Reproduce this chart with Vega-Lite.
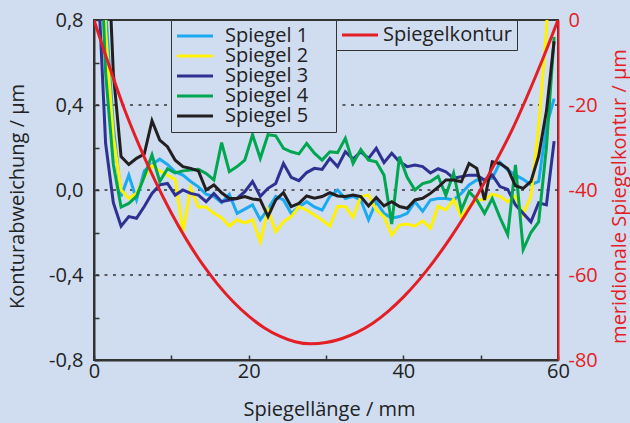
{
  "$schema": "https://vega.github.io/schema/vega-lite/v6.json",
  "width": 464,
  "height": 340,
  "autosize": {"type": "none"},
  "padding": {"left": 94, "top": 20, "right": 72, "bottom": 63},
  "background": "#d0ddf0",
  "config": {
    "font": "Open Sans",
    "view": {"stroke": "#333333", "strokeWidth": 2},
    "locale": {"number": {"decimal": ",", "thousands": ".", "grouping": [3], "currency": ["", " €"], "minus": "-"}},
    "axis": {
      "labelFont": "Open Sans", "labelFontSize": 20, "labelColor": "#222222",
      "titleFont": "Open Sans", "titleFontSize": 20, "titleFontWeight": "normal", "titleColor": "#222222",
      "domainColor": "#333333", "domainWidth": 2, "tickColor": "#333333", "tickWidth": 1.5,
      "grid": false, "labelFlush": false, "labelOverlap": false
    },
    "axisRight": {"labelColor": "#e31e24", "titleColor": "#e31e24", "domainColor": "#e31e24", "ticks": false}
  },
  "datasets": {
    "grid": [{"v": 0.4}, {"v": 0}, {"v": -0.4}],
    "mirrors": [
      {"x": 0.5, "Spiegel 1": 2.0, "Spiegel 2": 1.6, "Spiegel 3": 1.0, "Spiegel 4": 1.5, "Spiegel 5": 3.0},
      {"x": 1.5, "Spiegel 1": 0.85, "Spiegel 2": 0.75, "Spiegel 3": 0.22, "Spiegel 4": 0.55, "Spiegel 5": 1.4},
      {"x": 2.5, "Spiegel 1": 0.3, "Spiegel 2": 0.25, "Spiegel 3": -0.06, "Spiegel 4": 0.12, "Spiegel 5": 0.55},
      {"x": 3.5, "Spiegel 1": -0.03, "Spiegel 2": 0.0, "Spiegel 3": -0.17, "Spiegel 4": -0.08, "Spiegel 5": 0.157},
      {"x": 4.5, "Spiegel 1": 0.07, "Spiegel 2": -0.04, "Spiegel 3": -0.125, "Spiegel 4": -0.063, "Spiegel 5": 0.12},
      {"x": 5.5, "Spiegel 1": -0.045, "Spiegel 2": -0.015, "Spiegel 3": -0.133, "Spiegel 4": -0.03, "Spiegel 5": 0.149},
      {"x": 6.5, "Spiegel 1": 0.09, "Spiegel 2": 0.06, "Spiegel 3": -0.078, "Spiegel 4": 0.063, "Spiegel 5": 0.169},
      {"x": 7.5, "Spiegel 1": 0.12, "Spiegel 2": 0.115, "Spiegel 3": -0.016, "Spiegel 4": 0.165, "Spiegel 5": 0.326},
      {"x": 8.5, "Spiegel 1": 0.145, "Spiegel 2": 0.09, "Spiegel 3": 0.024, "Spiegel 4": 0.04, "Spiegel 5": 0.235},
      {"x": 9.5, "Spiegel 1": 0.12, "Spiegel 2": 0.07, "Spiegel 3": 0.031, "Spiegel 4": 0.1, "Spiegel 5": 0.204},
      {"x": 10.5, "Spiegel 1": 0.085, "Spiegel 2": 0.05, "Spiegel 3": -0.024, "Spiegel 4": 0.08, "Spiegel 5": 0.14},
      {"x": 11.5, "Spiegel 1": 0.07, "Spiegel 2": -0.196, "Spiegel 3": 0.0, "Spiegel 4": 0.09, "Spiegel 5": 0.11},
      {"x": 12.5, "Spiegel 1": 0.04, "Spiegel 2": 0.01, "Spiegel 3": -0.016, "Spiegel 4": 0.094, "Spiegel 5": 0.102},
      {"x": 13.5, "Spiegel 1": 0.015, "Spiegel 2": -0.08, "Spiegel 3": -0.024, "Spiegel 4": 0.097, "Spiegel 5": 0.09},
      {"x": 14.5, "Spiegel 1": -0.02, "Spiegel 2": -0.08, "Spiegel 3": -0.055, "Spiegel 4": 0.078, "Spiegel 5": 0.0},
      {"x": 15.5, "Spiegel 1": -0.03, "Spiegel 2": -0.11, "Spiegel 3": -0.016, "Spiegel 4": 0.047, "Spiegel 5": 0.024},
      {"x": 16.5, "Spiegel 1": -0.06, "Spiegel 2": -0.13, "Spiegel 3": -0.055, "Spiegel 4": 0.223, "Spiegel 5": -0.013},
      {"x": 17.5, "Spiegel 1": -0.02, "Spiegel 2": -0.17, "Spiegel 3": -0.047, "Spiegel 4": 0.086, "Spiegel 5": -0.04},
      {"x": 18.5, "Spiegel 1": -0.11, "Spiegel 2": -0.14, "Spiegel 3": -0.04, "Spiegel 4": 0.11, "Spiegel 5": -0.04},
      {"x": 19.5, "Spiegel 1": -0.09, "Spiegel 2": -0.155, "Spiegel 3": -0.008, "Spiegel 4": 0.14, "Spiegel 5": -0.031},
      {"x": 20.5, "Spiegel 1": -0.07, "Spiegel 2": -0.14, "Spiegel 3": 0.04, "Spiegel 4": 0.26, "Spiegel 5": -0.042},
      {"x": 21.5, "Spiegel 1": -0.14, "Spiegel 2": -0.243, "Spiegel 3": -0.03, "Spiegel 4": 0.149, "Spiegel 5": -0.047},
      {"x": 22.5, "Spiegel 1": -0.09, "Spiegel 2": -0.094, "Spiegel 3": 0.008, "Spiegel 4": 0.26, "Spiegel 5": -0.125},
      {"x": 23.5, "Spiegel 1": -0.03, "Spiegel 2": -0.196, "Spiegel 3": 0.031, "Spiegel 4": 0.255, "Spiegel 5": -0.047},
      {"x": 24.5, "Spiegel 1": -0.047, "Spiegel 2": -0.15, "Spiegel 3": 0.125, "Spiegel 4": 0.196, "Spiegel 5": -0.013},
      {"x": 25.5, "Spiegel 1": -0.11, "Spiegel 2": -0.125, "Spiegel 3": 0.06, "Spiegel 4": 0.18, "Spiegel 5": -0.078},
      {"x": 26.5, "Spiegel 1": -0.08, "Spiegel 2": -0.078, "Spiegel 3": 0.044, "Spiegel 4": 0.17, "Spiegel 5": -0.063},
      {"x": 27.5, "Spiegel 1": -0.055, "Spiegel 2": -0.094, "Spiegel 3": 0.082, "Spiegel 4": 0.219, "Spiegel 5": -0.028},
      {"x": 28.5, "Spiegel 1": -0.08, "Spiegel 2": -0.118, "Spiegel 3": 0.102, "Spiegel 4": 0.173, "Spiegel 5": -0.039},
      {"x": 29.5, "Spiegel 1": -0.095, "Spiegel 2": -0.141, "Spiegel 3": 0.097, "Spiegel 4": 0.141, "Spiegel 5": -0.031},
      {"x": 30.5, "Spiegel 1": -0.03, "Spiegel 2": -0.17, "Spiegel 3": 0.149, "Spiegel 4": 0.18, "Spiegel 5": -0.013},
      {"x": 31.5, "Spiegel 1": 0.0, "Spiegel 2": -0.078, "Spiegel 3": 0.11, "Spiegel 4": 0.176, "Spiegel 5": -0.028},
      {"x": 32.5, "Spiegel 1": -0.04, "Spiegel 2": -0.078, "Spiegel 3": 0.18, "Spiegel 4": 0.243, "Spiegel 5": -0.031},
      {"x": 33.5, "Spiegel 1": -0.03, "Spiegel 2": -0.129, "Spiegel 3": 0.145, "Spiegel 4": 0.125, "Spiegel 5": -0.024},
      {"x": 34.5, "Spiegel 1": -0.047, "Spiegel 2": -0.031, "Spiegel 3": 0.18, "Spiegel 4": 0.19, "Spiegel 5": -0.031},
      {"x": 35.5, "Spiegel 1": -0.14, "Spiegel 2": -0.024, "Spiegel 3": 0.149, "Spiegel 4": 0.141, "Spiegel 5": -0.075},
      {"x": 36.5, "Spiegel 1": -0.055, "Spiegel 2": -0.094, "Spiegel 3": 0.196, "Spiegel 4": 0.133, "Spiegel 5": -0.035},
      {"x": 37.5, "Spiegel 1": -0.11, "Spiegel 2": -0.125, "Spiegel 3": 0.129, "Spiegel 4": 0.07, "Spiegel 5": -0.075},
      {"x": 38.5, "Spiegel 1": -0.133, "Spiegel 2": -0.212, "Spiegel 3": 0.173, "Spiegel 4": -0.16, "Spiegel 5": -0.055},
      {"x": 39.5, "Spiegel 1": -0.125, "Spiegel 2": -0.165, "Spiegel 3": 0.133, "Spiegel 4": 0.157, "Spiegel 5": -0.078},
      {"x": 40.5, "Spiegel 1": -0.11, "Spiegel 2": -0.16, "Spiegel 3": 0.11, "Spiegel 4": 0.06, "Spiegel 5": -0.086},
      {"x": 41.5, "Spiegel 1": -0.055, "Spiegel 2": -0.17, "Spiegel 3": 0.118, "Spiegel 4": 0.0, "Spiegel 5": -0.047},
      {"x": 42.5, "Spiegel 1": -0.1, "Spiegel 2": -0.145, "Spiegel 3": 0.11, "Spiegel 4": 0.03, "Spiegel 5": -0.039},
      {"x": 43.5, "Spiegel 1": -0.047, "Spiegel 2": -0.18, "Spiegel 3": 0.08, "Spiegel 4": 0.04, "Spiegel 5": -0.016},
      {"x": 44.5, "Spiegel 1": -0.04, "Spiegel 2": -0.076, "Spiegel 3": 0.1, "Spiegel 4": 0.065, "Spiegel 5": 0.013},
      {"x": 45.5, "Spiegel 1": -0.04, "Spiegel 2": -0.094, "Spiegel 3": 0.086, "Spiegel 4": -0.025, "Spiegel 5": 0.047},
      {"x": 46.5, "Spiegel 1": -0.047, "Spiegel 2": -0.045, "Spiegel 3": 0.055, "Spiegel 4": 0.08, "Spiegel 5": 0.047},
      {"x": 47.5, "Spiegel 1": -0.016, "Spiegel 2": -0.126, "Spiegel 3": 0.063, "Spiegel 4": -0.094, "Spiegel 5": 0.039},
      {"x": 48.5, "Spiegel 1": 0.024, "Spiegel 2": -0.078, "Spiegel 3": 0.07, "Spiegel 4": -0.008, "Spiegel 5": 0.125},
      {"x": 49.5, "Spiegel 1": 0.047, "Spiegel 2": -0.047, "Spiegel 3": 0.07, "Spiegel 4": -0.047, "Spiegel 5": 0.102},
      {"x": 50.5, "Spiegel 1": 0.047, "Spiegel 2": -0.045, "Spiegel 3": 0.047, "Spiegel 4": -0.11, "Spiegel 5": -0.047},
      {"x": 51.5, "Spiegel 1": 0.055, "Spiegel 2": -0.02, "Spiegel 3": 0.07, "Spiegel 4": -0.04, "Spiegel 5": 0.133},
      {"x": 52.5, "Spiegel 1": 0.13, "Spiegel 2": -0.03, "Spiegel 3": 0.016, "Spiegel 4": -0.13, "Spiegel 5": 0.125},
      {"x": 53.5, "Spiegel 1": 0.094, "Spiegel 2": -0.055, "Spiegel 3": 0.003, "Spiegel 4": -0.21, "Spiegel 5": 0.1},
      {"x": 54.5, "Spiegel 1": 0.07, "Spiegel 2": -0.03, "Spiegel 3": -0.07, "Spiegel 4": 0.118, "Spiegel 5": 0.02},
      {"x": 55.5, "Spiegel 1": 0.05, "Spiegel 2": -0.115, "Spiegel 3": -0.11, "Spiegel 4": -0.28, "Spiegel 5": 0.008},
      {"x": 56.5, "Spiegel 1": 0.025, "Spiegel 2": -0.03, "Spiegel 3": -0.15, "Spiegel 4": -0.2, "Spiegel 5": 0.04},
      {"x": 57.5, "Spiegel 1": 0.04, "Spiegel 2": 0.3, "Spiegel 3": -0.06, "Spiegel 4": -0.15, "Spiegel 5": 0.16},
      {"x": 58.5, "Spiegel 1": 0.3, "Spiegel 2": 0.75, "Spiegel 3": -0.07, "Spiegel 4": 0.2, "Spiegel 5": 0.37},
      {"x": 59.5, "Spiegel 1": 0.43, "Spiegel 2": 1.5, "Spiegel 3": 0.23, "Spiegel 4": 0.72, "Spiegel 5": 0.7}
    ],
    "contour": [
      {"x": 0, "k": 0}, {"x": 2, "k": -11}, {"x": 4, "k": -21.3}, {"x": 6, "k": -30.2}, {"x": 8, "k": -38.2},
      {"x": 10, "k": -45.4}, {"x": 12, "k": -51.8}, {"x": 14, "k": -57.4}, {"x": 16, "k": -62.2}, {"x": 18, "k": -66.3},
      {"x": 20, "k": -69.7}, {"x": 22, "k": -72.4}, {"x": 24, "k": -74.4}, {"x": 26, "k": -75.7}, {"x": 28, "k": -76.2},
      {"x": 30, "k": -75.9}, {"x": 32, "k": -75.0}, {"x": 34, "k": -73.5}, {"x": 36, "k": -71.4}, {"x": 38, "k": -68.6},
      {"x": 40, "k": -65.2}, {"x": 42, "k": -61.2}, {"x": 44, "k": -56.6}, {"x": 46, "k": -51.5}, {"x": 48, "k": -45.9},
      {"x": 50, "k": -39.8}, {"x": 52, "k": -33.2}, {"x": 54, "k": -26.1}, {"x": 56, "k": -18.0}, {"x": 58, "k": -9.3}, {"x": 60, "k": 0}
    ]
  },
  "layer": [
    {
      "layer": [
        {
          "data": {"name": "grid"},
          "mark": {"type": "rule", "color": "#333333", "strokeWidth": 1.3, "strokeDash": [3, 5.5]},
          "encoding": {
            "y": {
              "field": "v", "type": "quantitative",
              "scale": {"domain": [-0.8, 0.8], "nice": false, "zero": false},
              "axis": {
                "orient": "left", "title": "Konturabweichung / µm",
                "values": [-0.8, -0.6, -0.4, -0.2, 0, 0.2, 0.4, 0.6, 0.8],
                "format": ".1f",
                "labelExpr": "round(datum.value * 10) % 4 == 0 ? datum.label : ''",
                "tickSize": -5, "labelPadding": 16,
                "titleAngle": -90, "titleAlign": "center", "titleBaseline": "middle",
                "titleX": -77, "titleY": 176
              }
            }
          }
        },
        {
          "data": {"name": "mirrors"},
          "transform": [{"fold": ["Spiegel 1", "Spiegel 2", "Spiegel 3", "Spiegel 4", "Spiegel 5"], "as": ["s", "v"]}],
          "mark": {"type": "line", "clip": true, "strokeWidth": 3},
          "encoding": {
            "x": {
              "field": "x", "type": "quantitative",
              "scale": {"domain": [0, 60], "nice": false, "zero": false},
              "axis": {
                "title": "Spiegellänge / mm",
                "values": [0, 10, 20, 30, 40, 50, 60],
                "labelExpr": "datum.value % 20 == 0 ? datum.label : ''",
                "tickSize": -5, "labelPadding": 6,
                "titleX": 235, "titleY": 49, "titleBaseline": "middle"
              }
            },
            "y": {
              "field": "v", "type": "quantitative",
              "scale": {"domain": [-0.8, 0.8], "nice": false, "zero": false},
              "axis": {
                "orient": "left", "title": "Konturabweichung / µm",
                "values": [-0.8, -0.6, -0.4, -0.2, 0, 0.2, 0.4, 0.6, 0.8],
                "format": ".1f",
                "labelExpr": "round(datum.value * 10) % 4 == 0 ? datum.label : ''",
                "tickSize": -5, "labelPadding": 16,
                "titleAngle": -90, "titleAlign": "center", "titleBaseline": "middle",
                "titleX": -77, "titleY": 176
              }
            },
            "color": {
              "field": "s", "type": "nominal",
              "scale": {
                "domain": ["Spiegel 1", "Spiegel 2", "Spiegel 3", "Spiegel 4", "Spiegel 5"],
                "range": ["#1ba9f0", "#fff100", "#2e3191", "#00a650", "#231f20"]
              },
              "legend": {
                "orient": "none", "legendX": 77, "legendY": 0, "title": null,
                "symbolType": "M-3,0L3,0", "symbolSize": 144, "symbolStrokeWidth": 3,
                "symbolOffset": 8, "labelOffset": 20, "rowPadding": 0, "padding": 6,
                "labelFont": "Open Sans", "labelFontSize": 20, "labelColor": "#222222",
                "strokeColor": "#333333", "fillColor": "#d0ddf0",
                "labelExpr": "datum.label + '\u00a0\u00a0\u00a0\u00a0\u200b'"
              }
            }
          }
        }
      ]
    },
    {
      "data": {"name": "contour"},
      "mark": {"type": "line", "clip": true, "strokeWidth": 3, "interpolate": "monotone"},
      "encoding": {
        "x": {"field": "x", "type": "quantitative", "scale": {"domain": [0, 60], "nice": false, "zero": false}},
        "y": {
          "field": "k", "type": "quantitative",
          "scale": {"domain": [-80, 0], "nice": false, "zero": false},
          "axis": {
            "orient": "right", "title": "meridionale Spiegelkontur / µm",
            "values": [-80, -60, -40, -20, 0], "format": "d",
            "labelPadding": 10,
            "titleAngle": -90, "titleAlign": "center", "titleBaseline": "middle",
            "titleX": 61, "titleY": 176
          }
        },
        "color": {
          "datum": "Spiegelkontur", "type": "nominal",
          "scale": {"range": ["#e31e24"]},
          "legend": {
            "orient": "none", "legendX": 242, "legendY": 0, "title": null,
            "symbolType": "M-3,0L3,0", "symbolSize": 144, "symbolStrokeWidth": 3,
            "symbolOffset": 9, "labelOffset": 13, "rowPadding": 0, "padding": 5,
            "labelFont": "Open Sans", "labelFontSize": 20, "labelColor": "#222222",
            "strokeColor": "#333333", "fillColor": "#d0ddf0"
          }
        }
      }
    }
  ],
  "resolve": {"scale": {"y": "independent", "color": "independent"}}
}
